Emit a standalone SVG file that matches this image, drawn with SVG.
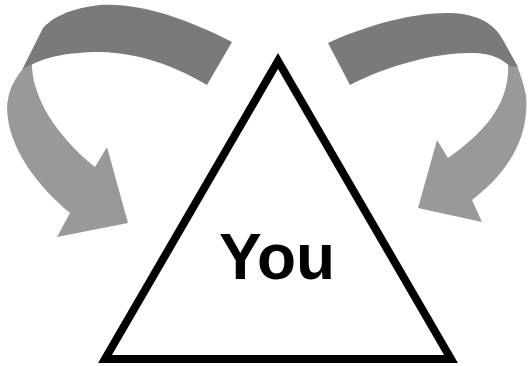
<svg xmlns="http://www.w3.org/2000/svg" width="529" height="366" viewBox="0 0 529 366">
<style>
.dark{fill:#7a7a7a}
.light{fill:#999999}
.tri{fill:#ffffff;stroke:#000000;stroke-width:8;stroke-linejoin:miter}
.lbl{font-family:"Liberation Sans",Arial,sans-serif;font-weight:bold;font-size:64px;fill:#000000}
</style>
<rect width="529" height="366" fill="#ffffff"/>
<g id="connectors">
<g id="arrow-left">
<path class="light" d="M32,62 C31,95 55,135 95,167 L107,147 L128,223 L57,237 L70,213 C40,188 8,150 7,108 C8,90 14,80 22,70 Z"/>
<path class="dark" d="M232,42 C190,20 140,2 100,5 C70,8 52,18 43,28 L22,70 C40,58 65,52 100,52 C140,53 175,66 207,85 Z"/>
</g>
<g id="arrow-right">
<path class="light" d="M508,62 C510,95 495,125 448,158 L437,140 L418,208 L482,222 L472,200 C505,175 530,140 526,95 C523,82 520,72 516,64 Z"/>
<path class="dark" d="M328,43 C360,28 410,12 450,13 C480,14 495,25 503,40 L518,67 L510,66 C500,58 490,53 473,53 C440,52 390,64 350,85 Z"/>
</g>
</g>
<g id="node-you">
<polygon class="tri" points="278,61 105,359 451,359"/>
<text class="lbl" x="277" y="279" text-anchor="middle">You</text>
</g>
</svg>
